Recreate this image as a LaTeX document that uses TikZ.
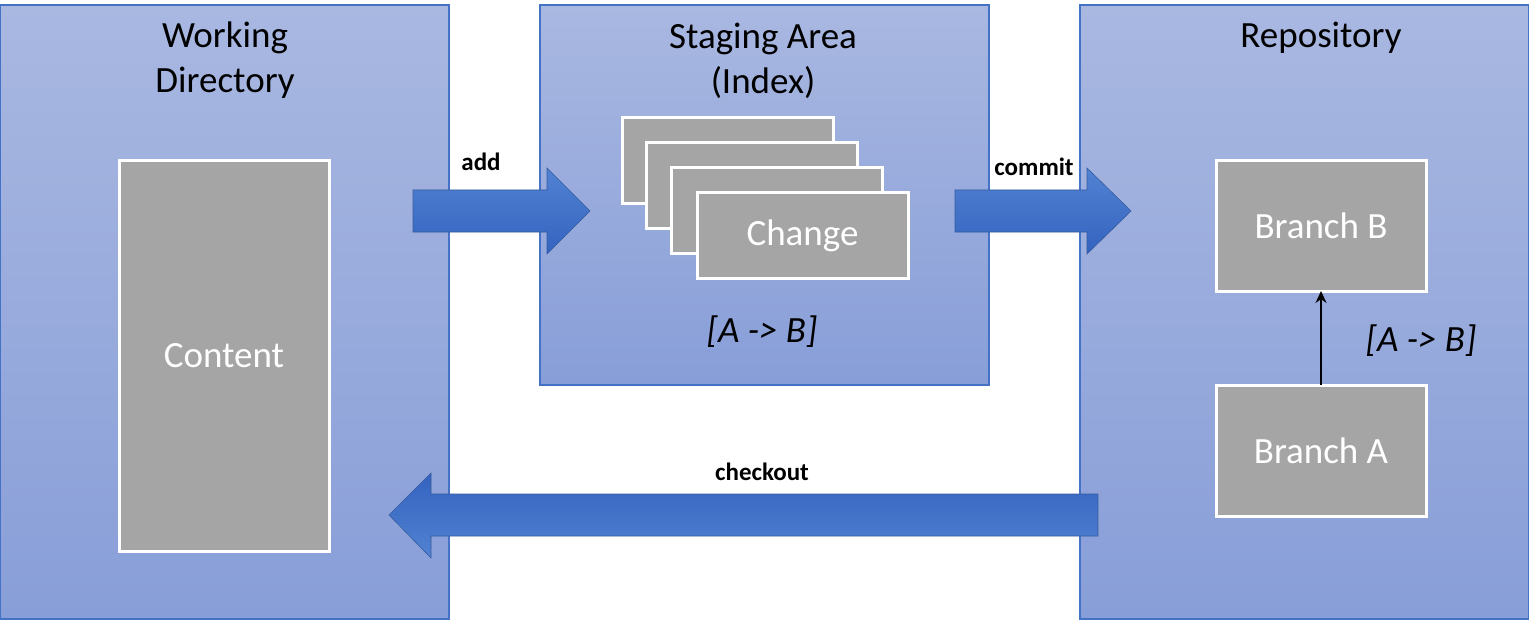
\documentclass[tikz,border=0pt]{standalone}
\usepackage{fontspec}
\setmainfont{Carlito}
\usetikzlibrary{arrows.meta}
\definecolor{pborder}{HTML}{4472C4}
\definecolor{ptop}{HTML}{A9B8E1}
\definecolor{pbot}{HTML}{889ED8}
\definecolor{boxgray}{HTML}{A5A5A5}
\definecolor{arrlight}{HTML}{5282D2}
\definecolor{arrdark}{HTML}{3363BF}
\tikzset{
  panel/.style={draw=pborder, line width=0.6pt, top color=ptop, bottom color=pbot,
    anchor=north west, inner sep=0pt, outer sep=0pt},
  graybox/.style={draw=white, line width=1.5pt, fill=boxgray, inner sep=0pt, outer sep=0pt,
    text=white, font=\fontsize{18.5}{22}\selectfont},
  title/.style={align=center, font=\fontsize{18.5}{22.5}\selectfont, text=black, inner sep=0pt},
  lbl/.style={font=\bfseries\fontsize{12.5}{14}\selectfont, text=black, inner sep=0pt},
  itl/.style={font=\itshape\fontsize{18.5}{22}\selectfont, text=black, inner sep=0pt},
  blockarrow/.style={draw=pborder!80!black, line width=0.3pt}
}
\begin{document}
\begin{tikzpicture}[x=0.5pt,y=-0.5pt]
\useasboundingbox (0,0) rectangle (1529,620);
% panels
\node[panel, minimum width=224.5pt, minimum height=307pt] (wd) at (0,5) {};
\node[panel, minimum width=224.5pt, minimum height=190pt] (sa) at (540,5) {};
\node[panel, minimum width=224.5pt, minimum height=307pt] (repo) at (1080,5) {};
% titles
\node[title] (wdt) at (225,60.5) {Working\\Directory};
\node[title] (sat) at (763,60.5) {Staging Area\\(Index)};
\node[title] (repot) at (1321,38) {Repository};
% content
\node[graybox, minimum width=105pt, minimum height=195pt] (content) at (224,356) {Content};
% change stack
\node[graybox, minimum width=105.5pt, minimum height=43pt] (c1) at (727.5,161) {};
\node[graybox, minimum width=105.5pt, minimum height=43pt] (c2) at (752,185.5) {};
\node[graybox, minimum width=105.5pt, minimum height=43pt] (c3) at (777,210.5) {};
\node[graybox, minimum width=105.5pt, minimum height=43pt] (c4) at (802.5,235.5) {\raisebox{-1.5pt}{Change}};
\node[itl] (sarule) at (762,332) {[A -> B]};
% branches
\node[graybox, minimum width=105pt, minimum height=65pt] (bb) at (1321,226) {Branch B};
\node[graybox, minimum width=105pt, minimum height=65.5pt] (ba) at (1321,450.5) {Branch A};
\draw[line width=0.8pt, -{Stealth[length=6pt,width=5.5pt]}] (ba.north) -- (bb.south);
\node[itl] (rrule) at (1421,341) {[A -> B]};
% block arrows
\shade[blockarrow, top color=arrlight, bottom color=arrdark]
  (413,190) -- (547,190) -- (547,168) -- (590,211) -- (547,254) -- (547,232) -- (413,232) -- cycle;
\shade[blockarrow, top color=arrlight, bottom color=arrdark]
  (955,190) -- (1087,190) -- (1087,168) -- (1131,211) -- (1087,254) -- (1087,232) -- (955,232) -- cycle;
\shade[blockarrow, top color=arrdark, bottom color=arrlight]
  (1098,494) -- (431,494) -- (431,473) -- (389,515) -- (431,558) -- (431,536) -- (1098,536) -- cycle;
\node[lbl] (add) at (481,162) {add};
\node[lbl] (commit) at (1034,167) {commit};
\node[lbl] (checkout) at (762,472) {checkout};
\end{tikzpicture}
\end{document}
